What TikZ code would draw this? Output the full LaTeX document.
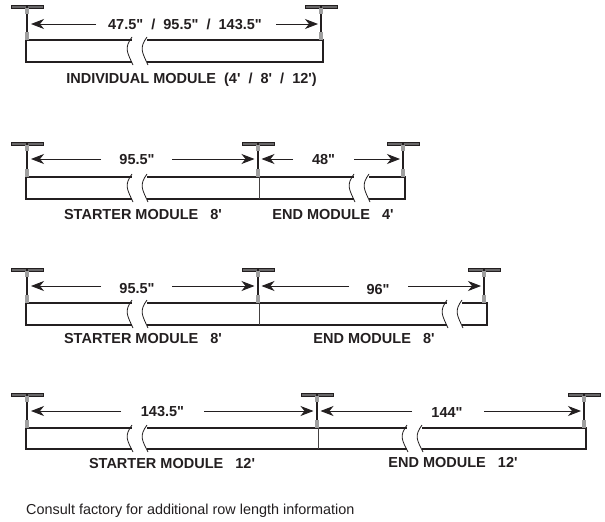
\documentclass[tikz,border=0pt]{standalone}
\usepackage{fontspec}
\setmainfont{Liberation Sans}[Ligatures=TeXOff]
\usetikzlibrary{arrows.meta}
\definecolor{ink}{HTML}{231F20}
\tikzset{
  lbl/.style={font=\fontsize{14.5}{17}\selectfont\bfseries,text=ink,inner sep=0pt},
  dimarrow/.style={draw=ink,line width=0.9pt,-{Stealth[length=13pt,width=10pt,inset=4pt]}},
  body/.style={draw=ink,line width=1.1pt},
  endcap/.style={draw=ink,line width=1.7pt},
  joint/.style={draw=ink!85,line width=0.7pt},
  brk/.style={draw=ink,line width=0.8pt},
}
% hanger: x, T-bar y
\newcommand{\hanger}[2]{%
  \draw[ink,line width=0.4pt,fill=gray!75!ink] (#1-16,#2-1.4) rectangle (#1+16,#2+1.4);
  \fill[ink] (#1-0.6,#2-2.5) rectangle (#1+0.6,#2+1);
  \draw[ink,line width=1.3pt] (#1,#2) -- (#1,#2+27);
  \fill[gray!75] (#1-1.8,#2+1.4) rectangle (#1+1.8,#2+7);
  \fill[gray!75] (#1-1.8,#2+25) rectangle (#1+1.8,#2+33);
}
% break: x, top y, bottom y
\newcommand{\brkmark}[3]{%
  \fill[white] (#1+3,#2-1.5) rectangle (#1+18,#3+1.5);
  \draw[brk] (#1+3,#2-3) .. controls (#1-5,#2+8) and (#1-2,#2+12) .. (#1+4,#3+3);
  \draw[brk] (#1+18,#2-3) .. controls (#1+10,#2+8) and (#1+13,#2+12) .. (#1+19,#3+3);
}
\begin{document}
\begin{tikzpicture}[x=1pt,y=-1pt]
\useasboundingbox (0,0) rectangle (605,522);
\fill[white] (0,0) rectangle (605,522);

% Row 1
\draw[body] (26,40) rectangle (323,62);
\draw[endcap] (26,40) -- (26,62);
\draw[body] (323,40) -- (323,62);
\brkmark{129}{40}{62}
\hanger{27}{7}
\hanger{321}{7}
\node[lbl] (d1) at (185,24) {47.5"\ \ /\ \ 95.5"\ \ /\ \ 143.5"};
\coordinate (a1l) at (31,24);
\coordinate (a1r) at (318,24);
\coordinate (t1l) at (96,24);
\coordinate (t1r) at (276,24);
\draw[dimarrow] (t1l) -- (a1l);
\draw[dimarrow] (t1r) -- (a1r);
\node[lbl] (t1) at (191.5,80) {INDIVIDUAL MODULE\ \ (4'\ \ /\ \ 8'\ \ /\ \ 12')};

% Row 2
\draw[body] (26,177) rectangle (405,199);
\draw[endcap] (26,177) -- (26,199);
\draw[endcap] (405,177) -- (405,199);
\draw[joint] (259,177) -- (259,199);
\brkmark{129}{177}{199}
\brkmark{351}{177}{199}
\hanger{27}{144}
\hanger{258}{144}
\hanger{403}{144}
\node[lbl] (d2) at (137,160) {95.5"};
\node[lbl] (d2b) at (323.5,160) {48"};
\coordinate (a2a) at (31,159);
\coordinate (a2b) at (254.5,159);
\coordinate (a2c) at (261.5,159);
\coordinate (a2d) at (400,159);
\coordinate (t2a) at (101,159);
\coordinate (t2b) at (172,159);
\coordinate (t2c) at (293,159);
\coordinate (t2d) at (354,159);
\draw[dimarrow] (t2a) -- (a2a);
\draw[dimarrow] (t2b) -- (a2b);
\draw[dimarrow] (t2c) -- (a2c);
\draw[dimarrow] (t2d) -- (a2d);
\node[lbl] (s2a) at (143,215) {STARTER MODULE\ \ \ 8'};
\node[lbl] (s2b) at (333,215) {END MODULE\ \ \ 4'};

% Row 3
\draw[body] (26,303) rectangle (487,325);
\draw[endcap] (26,303) -- (26,325);
\draw[endcap] (487,303) -- (487,325);
\draw[joint] (259,303) -- (259,325);
\brkmark{129}{303}{325}
\brkmark{444}{303}{325}
\hanger{27}{270}
\hanger{258}{270}
\hanger{484}{270}
\node[lbl] (d3) at (137,289) {95.5"};
\node[lbl] (d3b) at (378,290) {96"};
\coordinate (a3a) at (31,286);
\coordinate (a3b) at (254.5,286);
\coordinate (a3c) at (261.5,286);
\coordinate (a3d) at (481,286);
\coordinate (t3a) at (101,286);
\coordinate (t3b) at (172,286);
\coordinate (t3c) at (349,286);
\coordinate (t3d) at (408,286);
\draw[dimarrow] (t3a) -- (a3a);
\draw[dimarrow] (t3b) -- (a3b);
\draw[dimarrow] (t3c) -- (a3c);
\draw[dimarrow] (t3d) -- (a3d);
\node[lbl] (s3a) at (143,339) {STARTER MODULE\ \ \ 8'};
\node[lbl] (s3b) at (374,339) {END MODULE\ \ \ 8'};

% Row 4
\draw[body] (26,428) rectangle (586,449);
\draw[endcap] (26,428) -- (26,449);
\draw[endcap] (586,428) -- (586,449);
\draw[joint] (318,428) -- (318,449);
\brkmark{129}{428}{449}
\brkmark{404}{428}{449}
\hanger{27}{395}
\hanger{317}{395}
\hanger{584}{395}
\node[lbl] (d4) at (162.5,412) {143.5"};
\node[lbl] (d4b) at (447,413) {144"};
\coordinate (a4a) at (31,411);
\coordinate (a4b) at (313.5,411);
\coordinate (a4c) at (320.5,411);
\coordinate (a4d) at (581,411);
\coordinate (t4a) at (121,411);
\coordinate (t4b) at (204,411);
\coordinate (t4c) at (412,411);
\coordinate (t4d) at (484,411);
\draw[dimarrow] (t4a) -- (a4a);
\draw[dimarrow] (t4b) -- (a4b);
\draw[dimarrow] (t4c) -- (a4c);
\draw[dimarrow] (t4d) -- (a4d);
\node[lbl] (s4a) at (172,464) {STARTER MODULE\ \ \ 12'};
\node[lbl] (s4b) at (453,463) {END MODULE\ \ \ 12'};

\node[inner sep=0pt,anchor=west,text=ink,font=\fontsize{14.4}{17}\selectfont] (note) at (26,511) {Consult factory for additional row length information};
\end{tikzpicture}
\end{document}
